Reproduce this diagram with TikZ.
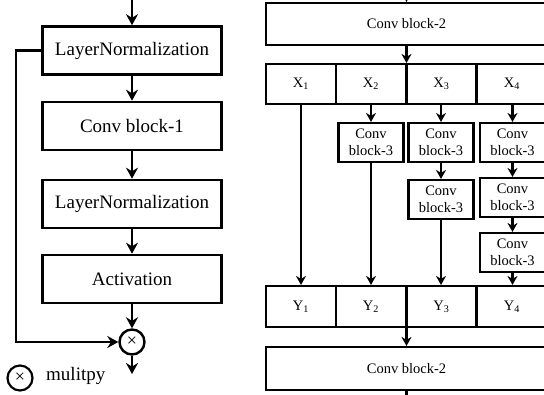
\documentclass[tikz,border=0pt]{standalone}
\usepackage{fontspec}
\setmainfont{Liberation Serif}
\usetikzlibrary{arrows.meta}
\begin{document}
\begin{tikzpicture}[x=1pt,y=-1pt,
 lbox/.style={draw,line width=2.6pt,minimum width=179pt,minimum height=48pt,inner sep=0pt,font=\fontsize{19}{22}\selectfont},
 rbox/.style={draw,line width=2.1pt,inner sep=0pt,font=\fontsize{14.5}{17}\selectfont,align=center},
 cell/.style={rbox,minimum width=70pt,minimum height=40pt},
 cbthree/.style={rbox,minimum width=65pt,minimum height=39pt},
 wide/.style={rbox,minimum width=281pt,minimum height=42pt},
 mulnode/.style={circle,draw,line width=2.4pt,minimum size=25pt,inner sep=0pt,font=\fontsize{18}{18}\selectfont},
 larr/.style={line width=2.6pt,-{Stealth[length=11pt,width=12pt]}},
 rarr/.style={line width=2.1pt,-{Stealth[length=9pt,width=10pt]}},
]
\useasboundingbox (0,0) rectangle (544,394);
\clip (0,0) rectangle (544,394);
% left column
\node[lbox] (ln1) at (132,50.5) {LayerNormalization};
\node[lbox] (cb1) at (132,126) {Conv block-1};
\node[lbox] (ln2) at (132,204) {LayerNormalization};
\node[lbox] (act) at (132,279) {Activation};
\node[mulnode] (mul) at (132,342) {×};
\coordinate (lin) at (132,-4);
\coordinate (lout) at (132,374);
\coordinate (fb) at (16,342);
\draw[larr] (lin) -- (ln1);
\draw[larr] (ln1) -- (cb1);
\draw[larr] (cb1) -- (ln2);
\draw[larr] (ln2) -- (act);
\draw[larr] (act) -- (mul);
\draw[larr] (mul) -- (lout);
\draw[larr] (ln1.west) -| (fb) -- (mul);
% legend
\node[mulnode,line width=2.2pt] (lg) at (20,378) {×};
\node[anchor=west,inner sep=0pt,font=\fontsize{19}{22}\selectfont] (lgt) at (46,376) {mulitpy};
% right part
\node[wide] (cbtop) at (406.5,24) {Conv block-2};
\node[cell] (x1) at (301,84) {X\textsubscript{1}};
\node[cell] (x2) at (371,84) {X\textsubscript{2}};
\node[cell] (x3) at (441.5,84) {X\textsubscript{3}};
\node[cell] (x4) at (512,84) {X\textsubscript{4}};
\node[cbthree] (c21) at (371,142.5) {Conv\\block-3};
\node[cbthree] (c31) at (441,142.5) {Conv\\block-3};
\node[cbthree] (c41) at (512.5,142.5) {Conv\\block-3};
\node[cbthree] (c32) at (441,199.5) {Conv\\block-3};
\node[cbthree] (c42) at (512.5,197.5) {Conv\\block-3};
\node[cbthree] (c43) at (512.5,252.5) {Conv\\block-3};
\node[cell,minimum height=41pt] (y1) at (301,306.5) {Y\textsubscript{1}};
\node[cell,minimum height=41pt] (y2) at (371,306.5) {Y\textsubscript{2}};
\node[cell,minimum height=41pt] (y3) at (441.5,306.5) {Y\textsubscript{3}};
\node[cell,minimum height=41pt] (y4) at (512,306.5) {Y\textsubscript{4}};
\node[wide,minimum height=43pt] (cbbot) at (406.5,368.5) {Conv block-2};
\coordinate (rin) at (406.5,-12);
\coordinate (rout) at (406.5,412);
\draw[rarr] (rin) -- (cbtop.north);
\draw[rarr] (cbtop.south) -- (cbtop.south |- x3.north);
\draw[rarr] (x1) -- (y1);
\draw[rarr] (x2) -- (c21);
\draw[rarr] (c21) -- (y2);
\draw[rarr] (x3.south -| c31) -- (c31);
\draw[rarr] (c31) -- (c32);
\draw[rarr] (c32) -- (c32 |- y3.north);
\draw[rarr] (x4.south -| c41) -- (c41);
\draw[rarr] (c41) -- (c42);
\draw[rarr] (c42) -- (c43);
\draw[rarr] (c43) -- (c43 |- y4.north);
\draw[rarr] (cbbot.north |- y3.south) -- (cbbot.north);
\draw[rarr] (cbbot.south) -- (rout);
\end{tikzpicture}
\end{document}
